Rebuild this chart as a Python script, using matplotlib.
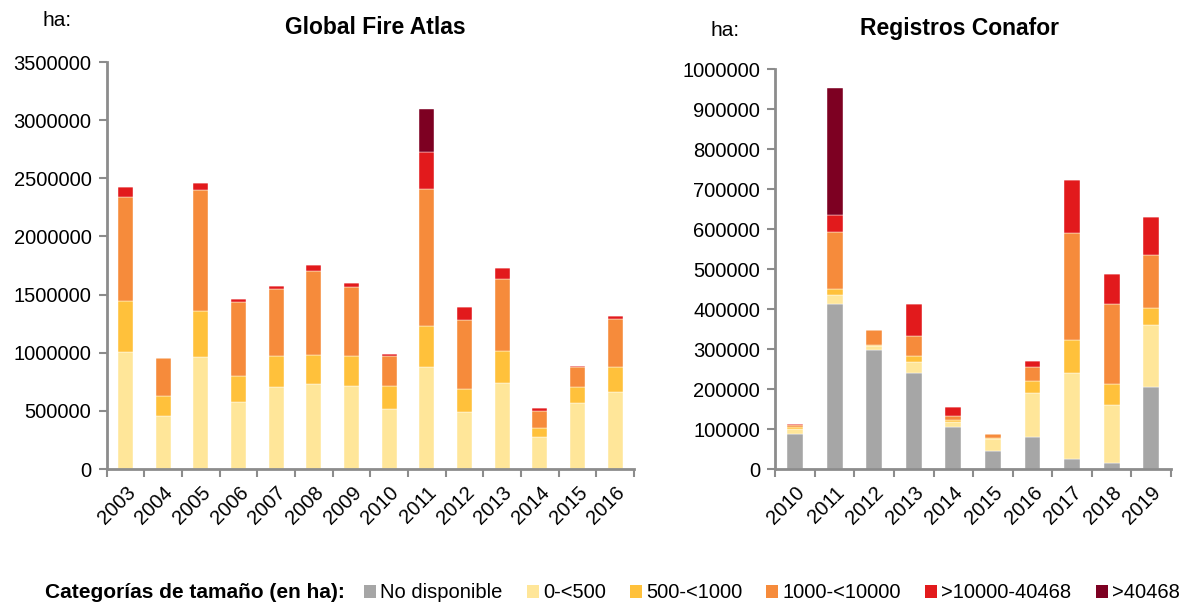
import numpy as np
import matplotlib
matplotlib.use("Agg")
import matplotlib.pyplot as plt
from matplotlib.patches import Patch

plt.rcParams['font.family'] = ['Liberation Sans', 'DejaVu Sans']

# Categories and colours
categorias = ["No disponible", "0-<500", "500-<1000", "1000-<10000", ">10000-40468", ">40468"]
colores = ["#a6a6a6", "#ffe699", "#ffc13b", "#f68b3b", "#e21a1c", "#7d0022"]

# Global Fire Atlas (ha), 2003-2016
gfa_years = ["2003", "2004", "2005", "2006", "2007", "2008", "2009",
             "2010", "2011", "2012", "2013", "2014", "2015", "2016"]
gfa_nd = [0, 0, 0, 0, 0, 0, 0, 0, 0, 0, 0, 0, 0, 0]
gfa_0_500 = [1006000, 452000, 963000, 579000, 702000, 731000, 716000,
             516000, 880000, 490000, 736000, 272000, 564000, 662000]
gfa_500_1000 = [435000, 172000, 398000, 223000, 266000, 252000, 252000,
                194000, 352000, 195000, 281000, 77000, 141000, 212000]
gfa_1000_10000 = [901000, 330000, 1035000, 631000, 580000, 722000, 594000,
                  264000, 1172000, 593000, 613000, 150000, 169000, 418000]
gfa_10000_40468 = [83000, 4000, 66000, 31000, 28000, 46000, 34000,
                   11000, 322000, 112000, 95000, 28000, 12000, 24000]
gfa_40468 = [0, 0, 0, 0, 0, 0, 0, 0, 372000, 0, 0, 0, 0, 0]

# Registros Conafor (ha), 2010-2019
con_years = ["2010", "2011", "2012", "2013", "2014",
             "2015", "2016", "2017", "2018", "2019"]
con_nd = [88000, 412000, 298000, 241000, 106000, 46500, 81000, 26000, 15000, 207000]
con_0_500 = [12000, 24000, 9000, 28000, 13000, 28500, 111000, 214000, 146000, 153000]
con_500_1000 = [5000, 15000, 3000, 15000, 5000, 4000, 28000, 82000, 53000, 43000]
con_1000_10000 = [6000, 143000, 37000, 49000, 9000, 8500, 35000, 269000, 199000, 133000]
con_10000_40468 = [3000, 41000, 0, 79000, 23000, 1500, 15000, 133000, 74000, 95000]
con_40468 = [0, 318000, 0, 0, 0, 0, 0, 0, 0, 0]

AXIS_GRAY = "#8c8c8c"
TICK_FS = 14.5


def stacked(ax, years, series, ymax, step):
    x = np.arange(len(years))
    bottom = np.zeros(len(years))
    for vals, col in zip(series, colores):
        vals = np.array(vals, dtype=float)
        ax.bar(x, vals, width=0.4, bottom=bottom, color=col,
               edgecolor="white", linewidth=0.3)
        bottom += vals
    ax.set_xlim(-0.5, len(years) - 0.5)
    ax.set_ylim(0, ymax)
    ax.set_yticks(np.arange(0, ymax + 1, step))
    ax.set_yticklabels([str(int(v)) for v in np.arange(0, ymax + 1, step)])
    ax.set_xticks(x)
    ax.set_xticklabels(years, rotation=45, ha="right", rotation_mode="anchor")
    ax.set_xticks(np.arange(-0.5, len(years)), minor=True)
    ax.tick_params(axis="x", which="major", length=0, pad=10, labelsize=TICK_FS)
    ax.tick_params(axis="x", which="minor", length=6, width=1.5,
                   color=AXIS_GRAY, direction="out")
    ax.tick_params(axis="y", length=6, width=1.5, color=AXIS_GRAY,
                   labelsize=TICK_FS, pad=5)
    for s in ["top", "right"]:
        ax.spines[s].set_visible(False)
    for s in ["left", "bottom"]:
        ax.spines[s].set_color(AXIS_GRAY)
        ax.spines[s].set_linewidth(2)


fig = plt.figure(figsize=(11.84, 6.04), dpi=100)

ax1 = fig.add_axes([0.0901, 0.2235, 0.4454, 0.6738])
stacked(ax1, gfa_years, [gfa_nd, gfa_0_500, gfa_500_1000, gfa_1000_10000,
                         gfa_10000_40468, gfa_40468], 3500000, 500000)

ax2 = fig.add_axes([0.6548, 0.2230, 0.3342, 0.6623])
stacked(ax2, con_years, [con_nd, con_0_500, con_500_1000, con_1000_10000,
                         con_10000_40468, con_40468], 1000000, 100000)

fig.text(375 / 1184, 1 - 28 / 604, "Global Fire Atlas", ha="center", va="center",
         fontsize=16.5, fontweight="bold")
fig.text(960 / 1184, 1 - 28 / 604, "Registros Conafor", ha="center", va="center",
         fontsize=16.5, fontweight="bold")
fig.text(57 / 1184, 1 - 20 / 604, "ha:", ha="center", va="center", fontsize=15)
fig.text(725 / 1184, 1 - 30 / 604, "ha:", ha="center", va="center", fontsize=15)

# legend row
fig.text(45 / 1184, 1 - 593 / 604, "Categorías de tamaño (en ha):", ha="left",
         va="center", fontsize=15, fontweight="bold")
handles = [Patch(facecolor=c, edgecolor="none") for c in colores]
fig.legend(handles, categorias, loc="center left",
           bbox_to_anchor=(364 / 1184, 1 - 593 / 604), ncol=6, frameon=False,
           fontsize=14.5, handlelength=0.6, handleheight=0.6, handletextpad=0.2,
           columnspacing=1.2, borderpad=0, borderaxespad=0)

fig.savefig("out.png", dpi=100)
